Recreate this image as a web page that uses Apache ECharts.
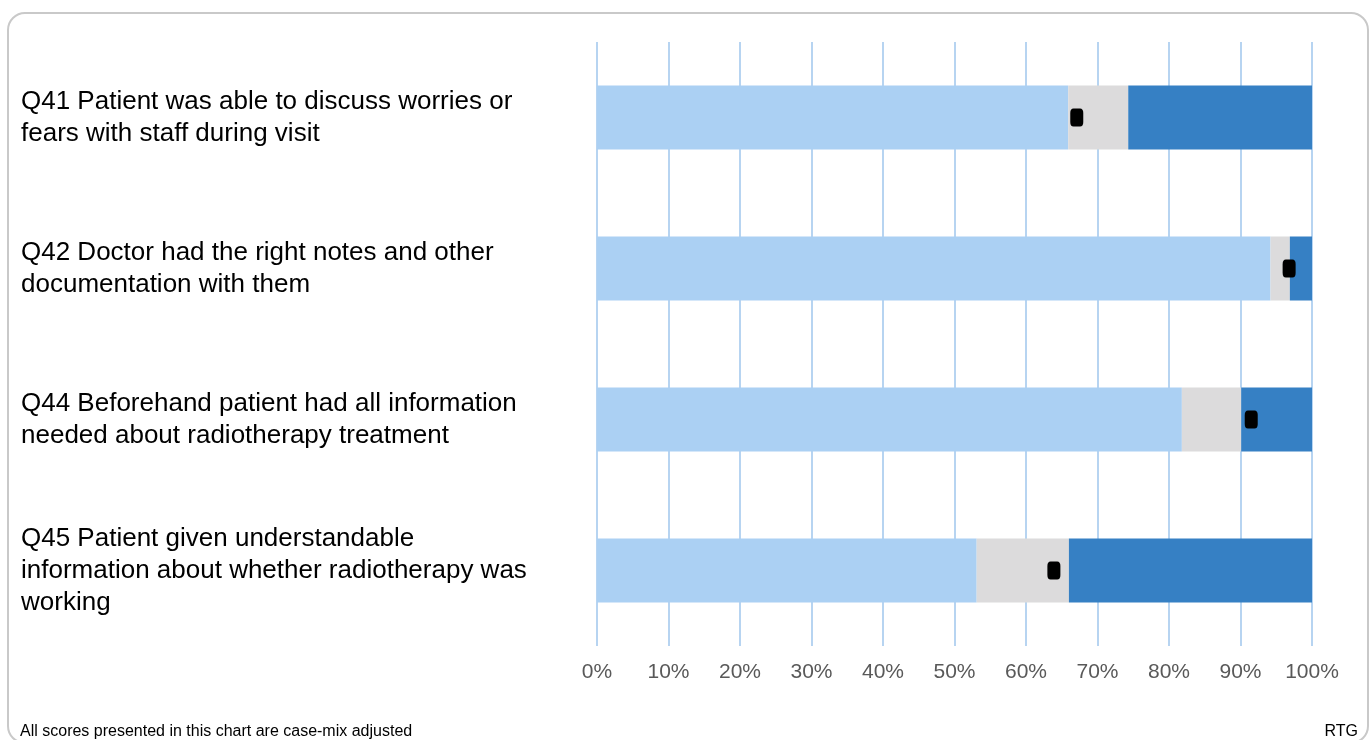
<!DOCTYPE html>
<html>
<head>
<meta charset="utf-8">
<script src="https://cdn.jsdelivr.net/npm/echarts@6/dist/echarts.min.js"></script>
<style>
html,body{margin:0;padding:0;background:#fff;width:1370px;height:740px;overflow:hidden;}
#box{position:absolute;left:7px;top:12px;width:1362px;height:732px;border:2px solid #c9c9c9;border-radius:18px;box-sizing:border-box;}
#chart{position:absolute;left:0;top:0;width:1370px;height:740px;}
</style>
</head>
<body>
<div id="box"></div>
<div id="chart"></div>
<script>
const categories = [
  "Q41 Patient was able to discuss worries or\nfears with staff during visit",
  "Q42 Doctor had the right notes and other\ndocumentation with them",
  "Q44 Beforehand patient had all information\nneeded about radiotherapy treatment",
  "Q45 Patient given understandable\ninformation about whether radiotherapy was\nworking"
];
const lowerValues = [65.9, 94.2, 81.8, 53.1];
const middleValues = [8.4, 2.7, 8.3, 12.9];
const upperValues = [25.7, 3.1, 9.9, 34.0];
const markerValues = [67.1, 96.8, 91.5, 63.9];
const tickLabels = ["0%","10%","20%","30%","40%","50%","60%","70%","80%","90%","100%"];

const FONT = '"Liberation Sans", Arial, sans-serif';
const chart = echarts.init(document.getElementById('chart'), null, {renderer:'canvas'});
chart.setOption({
  animation:false,
  textStyle:{fontFamily:FONT},
  grid:{left:597, right:58, top:42, bottom:94},
  xAxis:{
    type:'value', min:0, max:100, interval:10,
    axisLine:{show:false}, axisTick:{show:false},
    splitLine:{show:true, lineStyle:{color:'#b7d4f1', width:2}},
    axisLabel:{
      margin:16, fontSize:21, color:'#595959', fontFamily:FONT,
      formatter:function(v){return tickLabels[Math.round(v/10)];}
    }
  },
  yAxis:{
    type:'category', data:categories, inverse:true,
    axisLine:{show:false}, axisTick:{show:false},
    splitLine:{show:true, lineStyle:{color:'#ffffff', width:3}},
    axisLabel:{
      margin:576, align:'left', fontSize:26, lineHeight:32, color:'#000',
      fontFamily:FONT
    }
  },
  series:[
    {type:'bar', stack:'s', data:lowerValues, barWidth:64, itemStyle:{color:'#abd0f3'}, silent:true},
    {type:'bar', stack:'s', data:middleValues, barWidth:64, itemStyle:{color:'#dcdbdc'}, silent:true},
    {type:'bar', stack:'s', data:upperValues, barWidth:64, itemStyle:{color:'#3680c4'}, silent:true},
    {type:'scatter', data:markerValues.map((v,i)=>[v,i]), symbol:'roundRect', symbolSize:[13,18],
     itemStyle:{color:'#000', opacity:1}, z:10, silent:true}
  ],
  graphic:[
    {type:'text', left:20, top:724, style:{text:'All scores presented in this chart are case-mix adjusted', fontSize:16, fill:'#000', fontFamily:FONT}},
    {type:'text', right:12, top:724, style:{text:'RTG', fontSize:16, fill:'#000', fontFamily:FONT}}
  ]
});
</script>
</body>
</html>
